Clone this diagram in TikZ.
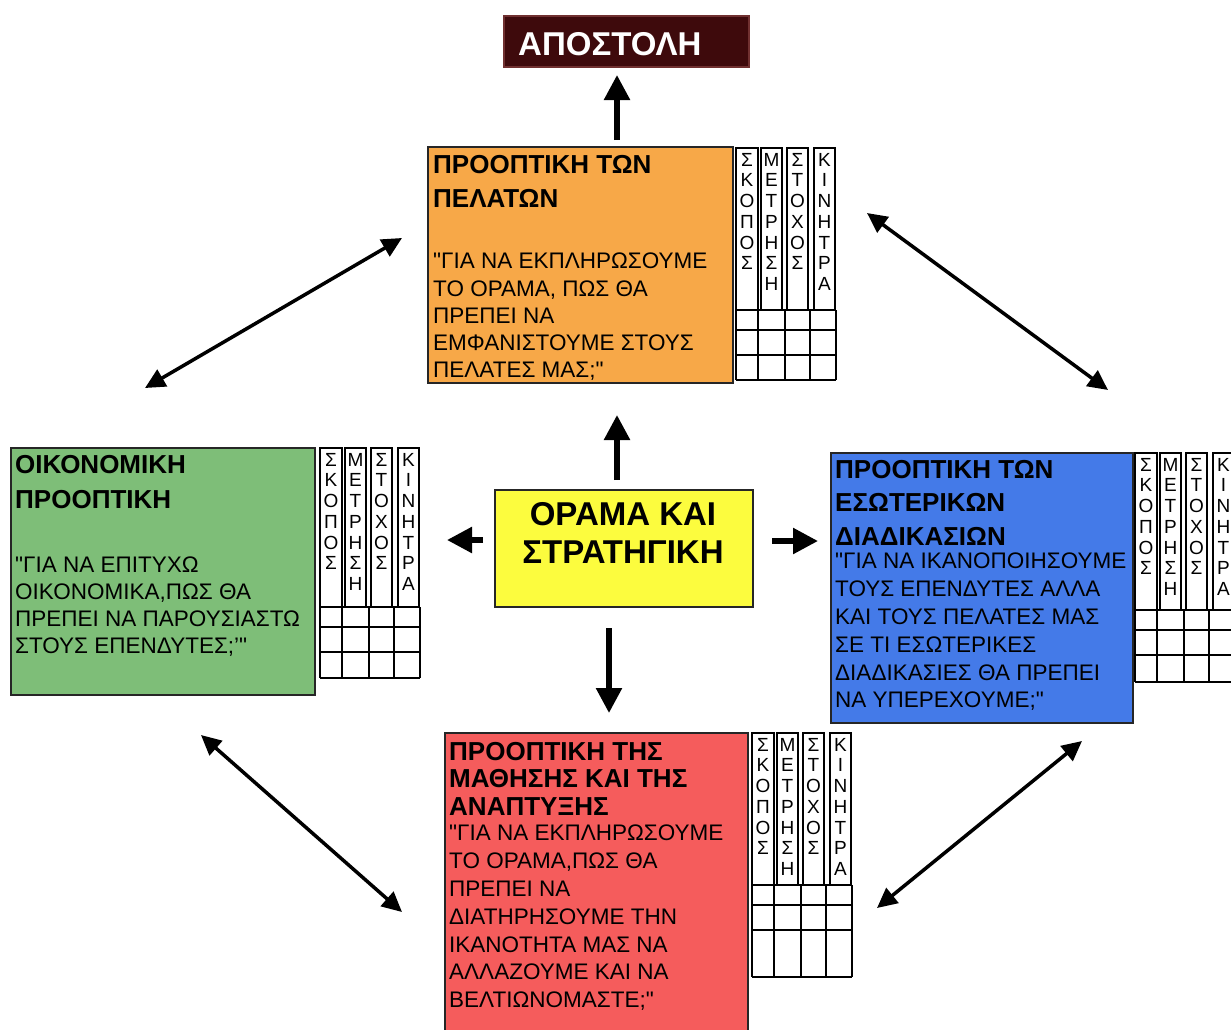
\documentclass[tikz,border=0pt]{standalone}
\usepackage{fontspec}
\setmainfont{Liberation Sans}[Ligatures=TeXOff]
\usetikzlibrary{arrows.meta}

\definecolor{custorange}{RGB}{247,168,72}
\definecolor{fingreen}{RGB}{126,190,120}
\definecolor{procblue}{RGB}{68,122,232}
\definecolor{learnred}{RGB}{245,92,92}
\definecolor{visyellow}{RGB}{252,252,62}
\definecolor{missionred}{RGB}{62,10,12}
\definecolor{missionedge}{RGB}{112,48,48}

% KPI table: #1 name, #2 left x, #3 top y, #4 bottom of the label strips, #5 bottom of the grid
\newcommand\kpitable[5]{%
  \begin{scope}[shift={(#2,#3)}]
    \pgfmathsetmacro\kpiSH{#4-#3}
    \pgfmathsetmacro\kpiGB{#5-#3}
    \foreach \a/\b in {0/22,25/46,51/72,78/99}
      \draw[strip] (\a,0) rectangle (\b,\kpiSH);
    \foreach \yy in {\kpiSH,\kpiSH+20,\kpiSH+45,\kpiGB}
      \draw[cell] (0,\yy) -- (100,\yy);
    \foreach \xx in {0,22,49,74,100}
      \draw[cell] (\xx,\kpiSH) -- (\xx,\kpiGB);
    \foreach \cx/\letters [count=\ci] in {11/{Σ,Κ,Ο,Π,Ο,Σ},35.5/{Μ,Ε,Τ,Ρ,Η,Σ,Η},61.5/{Σ,Τ,Ο,Χ,Ο,Σ},88.5/{Κ,Ι,Ν,Η,Τ,Ρ,Α}}
      \foreach \ch [count=\ri] in \letters
        \node[stripletter] (#1-\ci-\ri) at (\cx,{5+20.7*(\ri-1)}) {\ch};
  \end{scope}}

\begin{document}
\begin{tikzpicture}[x=1pt,y=-1pt,
  panel/.style={draw=black!85, line width=1.8pt, inner sep=0pt, outer sep=0pt, anchor=north west},
  ttl/.style={anchor=north west, inner sep=0pt, align=left, font=\bfseries\fontsize{26}{#1}\selectfont},
  ttl/.default=34.5,
  body/.style={anchor=north west, inner sep=0pt, align=left, font=\fontsize{22.5}{#1}\selectfont},
  body/.default=27.5,
  strip/.style={draw=black, line width=1.3pt, fill=white},
  cell/.style={draw=black, line width=1.3pt},
  stripletter/.style={anchor=north, inner sep=0pt, font=\fontsize{19}{20}\selectfont},
  bigarrow/.style={line width=5.5pt, -{Triangle[length=25pt,width=25pt]}},
  duoarrow/.style={line width=3.5pt, {Triangle[length=20pt,width=19pt]}-{Triangle[length=20pt,width=19pt]}},
]
\fill[white] (0,0) rectangle (1231,1029);
\useasboundingbox (0,0) rectangle (1231,1029);

% mission
\node[draw=missionedge, line width=2.5pt, fill=missionred, minimum width=245pt, minimum height=51pt,
      inner sep=0pt, outer sep=0pt, anchor=north west] (mission) at (504,16) {};
\node[anchor=west, inner sep=0pt, text=white, font=\bfseries\fontsize{33}{38}\selectfont]
      (missiontxt) at (518,44) {ΑΠΟΣΤΟΛΗ};

% perspective panels
\node[panel, fill=custorange, minimum width=305pt, minimum height=236pt] (cust) at (428,147) {};
\node[panel, fill=fingreen,   minimum width=304pt, minimum height=247pt] (fin)  at (11,448) {};
\node[panel, fill=procblue,   minimum width=302pt, minimum height=270pt] (proc) at (831,453) {};
\node[panel, fill=learnred,   minimum width=303pt, minimum height=320pt] (learn) at (445,733) {};

% vision and strategy
\node[panel, fill=visyellow, minimum width=258pt, minimum height=117pt] (vision) at (495,490) {};
\node[anchor=north, inner sep=0pt, align=center, font=\bfseries\fontsize{33}{38}\selectfont]
      (visiontxt) at (623,502) {ΟΡΑΜΑ ΚΑΙ\\ΣΤΡΑΤΗΓΙΚΗ};

% panel texts
\node[ttl=34.5] (cust-t) at (433,155) {ΠΡΟΟΠΤΙΚΗ ΤΩΝ\\ΠΕΛΑΤΩΝ};
\node[body=27.1] (cust-b) at (433,253) {"ΓΙΑ ΝΑ ΕΚΠΛΗΡΩΣΟΥΜΕ\\ΤΟ ΟΡΑΜΑ, ΠΩΣ ΘΑ\\ΠΡΕΠΕΙ ΝΑ\\ΕΜΦΑΝΙΣΤΟΥΜΕ ΣΤΟΥΣ\\ΠΕΛΑΤΕΣ ΜΑΣ;"};

\node[ttl=35] (fin-t) at (15,455) {ΟΙΚΟΝΟΜΙΚΗ\\ΠΡΟΟΠΤΙΚΗ};
\node[body=26.7] (fin-b) at (15,557) {"ΓΙΑ ΝΑ ΕΠΙΤΥΧΩ\\ΟΙΚΟΝΟΜΙΚΑ,ΠΩΣ ΘΑ\\ΠΡΕΠΕΙ ΝΑ ΠΑΡΟΥΣΙΑΣΤΩ\\ΣΤΟΥΣ ΕΠΕΝΔΥΤΕΣ;’"};

\node[ttl=33.5] (proc-t) at (835,460) {ΠΡΟΟΠΤΙΚΗ ΤΩΝ\\ΕΣΩΤΕΡΙΚΩΝ\\ΔΙΑΔΙΚΑΣΙΩΝ};
\node[body=27.8] (proc-b) at (835,553) {"ΓΙΑ ΝΑ ΙΚΑΝΟΠΟΙΗΣΟΥΜΕ\\ΤΟΥΣ ΕΠΕΝΔΥΤΕΣ ΑΛΛΑ\\ΚΑΙ ΤΟΥΣ ΠΕΛΑΤΕΣ ΜΑΣ\\ΣΕ ΤΙ ΕΣΩΤΕΡΙΚΕΣ\\ΔΙΑΔΙΚΑΣΙΕΣ ΘΑ ΠΡΕΠΕΙ\\ΝΑ ΥΠΕΡΕΧΟΥΜΕ;"};

\node[ttl=27.5] (learn-t) at (449,742) {ΠΡΟΟΠΤΙΚΗ ΤΗΣ\\ΜΑΘΗΣΗΣ ΚΑΙ ΤΗΣ\\ΑΝΑΠΤΥΞΗΣ};
\node[body=27.8] (learn-b) at (449,825) {"ΓΙΑ ΝΑ ΕΚΠΛΗΡΩΣΟΥΜΕ\\ΤΟ ΟΡΑΜΑ,ΠΩΣ ΘΑ\\ΠΡΕΠΕΙ ΝΑ\\ΔΙΑΤΗΡΗΣΟΥΜΕ ΤΗΝ\\ΙΚΑΝΟΤΗΤΑ ΜΑΣ ΝΑ\\ΑΛΛΑΖΟΥΜΕ ΚΑΙ ΝΑ\\ΒΕΛΤΙΩΝΟΜΑΣΤΕ;"};

% KPI tables
\kpitable{custkpi}{736}{148}{310}{380}
\kpitable{finkpi}{320}{448}{607}{678}
\kpitable{prockpi}{1135}{453}{610}{682}
\kpitable{learnkpi}{752}{733}{885}{977}

% straight arrows
\draw[bigarrow, shorten <=7pt, shorten >=8pt] ([xshift=36.5pt]cust.north) -- ([xshift=-9.5pt]mission.south);
\draw[bigarrow, shorten <=10pt, shorten >=32pt] ([xshift=-7pt]vision.north) -- ([xshift=36.5pt]cust.south);
\draw[bigarrow, shorten <=21pt, shorten >=20pt] ([xshift=-15pt]vision.south) -- ([xshift=12.5pt]learn.north);
\draw[bigarrow, shorten <=12pt, shorten >=132pt] ([yshift=8.5pt]vision.west) -- ([yshift=31.5pt]fin.east);
\draw[bigarrow, shorten <=19pt, shorten >=13pt] ([yshift=7.5pt]vision.east) -- ([yshift=47pt]proc.west);

% two-way links between neighbouring perspectives
\coordinate (nw1) at (145,388);  \coordinate (nw2) at (402,238);
\coordinate (ne1) at (867,213);  \coordinate (ne2) at (1108,390);
\coordinate (sw1) at (201,735);  \coordinate (sw2) at (402,912);
\coordinate (se1) at (1082,741); \coordinate (se2) at (877,908);
\draw[duoarrow] (nw1) -- (nw2);
\draw[duoarrow] (ne1) -- (ne2);
\draw[duoarrow] (sw1) -- (sw2);
\draw[duoarrow] (se1) -- (se2);
\end{tikzpicture}
\end{document}
